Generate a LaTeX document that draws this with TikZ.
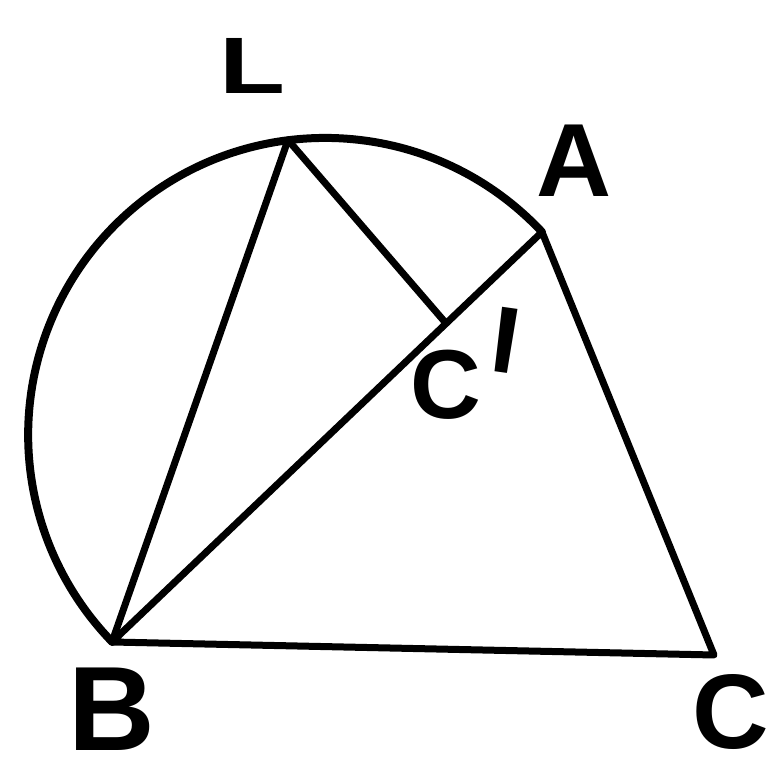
\documentclass[tikz,border=0pt]{standalone}
\usepackage{fontspec}
\usepackage{graphicx}
\setmainfont{Liberation Sans}
\usetikzlibrary{calc}
\newcommand{\myprime}{\kern-5pt\smash{\raisebox{-32.5pt}{\rotatebox{-8}{\scalebox{0.45}[1]{\fontsize{130}{130}\selectfont\textquotesingle}}}}}
\begin{document}
\begin{tikzpicture}[x=0.5pt,y=-0.5pt,line width=3.5pt,line join=round,line cap=round,
  lbl/.style={inner sep=0pt,anchor=center}]
\useasboundingbox (0,0) rectangle (772,769);
\coordinate (O) at (325,435);
\coordinate (B) at (112,642);
\coordinate (L) at (288,140);
\coordinate (A) at (542,232);
\coordinate (C) at (714,655);
\coordinate (Cp) at ($(B)!0.777!(A)$);
% circle arc from A over the top to B
\draw[line width=4pt] (A) arc[start angle=-43.1,end angle=-224.2,radius=297];
% segments
\draw (B) -- (L);
\draw (L) -- (Cp);
\draw (B) -- (A) -- (C) -- cycle;
% labels
\node[lbl,xscale=1.35,font=\fontsize{40}{40}\selectfont\bfseries] (tL) at (252,66) {L};
\node[lbl,font=\fontsize{52}{52}\selectfont\bfseries] (tA) at (574,161) {A};
\node[lbl,font=\fontsize{60}{60}\selectfont\bfseries] (tB) at (112,709) {B};
\node[lbl,font=\fontsize{53}{53}\selectfont\bfseries] (tC) at (731,712) {C};
\node[inner sep=0pt,anchor=base west,font=\fontsize{49}{49}\selectfont\bfseries] (tCp) at (407,419) {C\myprime};
\end{tikzpicture}
\end{document}
